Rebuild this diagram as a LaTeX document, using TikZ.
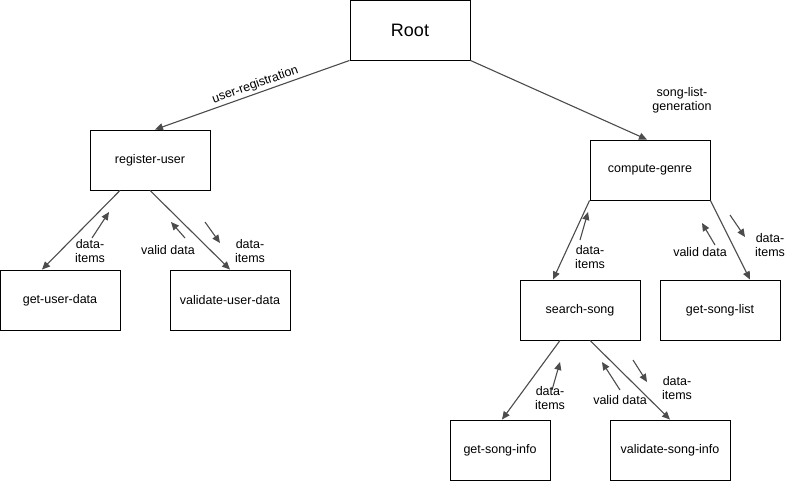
\documentclass[tikz,border=0pt]{standalone}
\usepackage{fontspec}
\setmainfont{Liberation Sans}
\usetikzlibrary{arrows.meta}
\begin{document}
\begin{tikzpicture}[x=1pt,y=-1pt,
  box/.style={draw=black,line width=0.9pt,minimum width=120pt,minimum height=60pt,inner sep=0pt,font=\fontsize{12.5}{14}\selectfont},
  smallbox/.style={box,minimum width=100pt},
  link/.style={draw=black!70,line width=1.1pt,-{Triangle[length=8pt,width=7pt]}},
  hint/.style={draw=black!70,line width=1.1pt,-{Triangle[length=8pt,width=7pt]}},
  lbl/.style={font=\fontsize{12.5}{14}\selectfont,align=center,inner sep=0pt}]
\useasboundingbox (0,0) rectangle (801,481);
\fill[white] (0,0) rectangle (801,481);
% boxes
\node[box,font=\fontsize{18}{20}\selectfont] (root) at (410,30) {Root};
\node[box] (reg) at (150,160) {register-user};
\node[box] (gud) at (60,300) {get-user-data};
\node[box] (vud) at (230,300) {validate-user-data};
\node[box] (cg) at (650,170) {compute-genre};
\node[box] (ss) at (580,310) {search-song};
\node[box] (gsl) at (720,310) {get-song-list};
\node[smallbox] (gsi) at (500,450) {get-song-info};
\node[box] (vsi) at (670,450) {validate-song-info};
% main connectors
\draw[link] (root.south west) -- ([xshift=5pt]reg.north) node[pos=0.47,sloped,above=2pt,lbl] {user-registration};
\draw[link] (root.south east) -- ([xshift=-3pt]cg.north);
\node[lbl] (slg) at (682,100) {song-list-\\generation};
\draw[link] ([xshift=-30pt]reg.south) -- ([xshift=-18pt]gud.north);
\draw[link] (reg.south) -- (vud.north);
\draw[link] (cg.south west) -- ([xshift=-27pt]ss.north);
\draw[link] (cg.south east) -- ([xshift=30pt]gsl.north);
\draw[link] ([xshift=-20pt]ss.south) -- ([xshift=2pt]gsi.north);
\draw[link] ([xshift=10pt]ss.south) -- (vsi.north);
% annotation arrows and labels
\draw[hint] (92,238) -- (109,212);
\node[lbl] (l1) at (90,251) {data-\\items};
\draw[hint] (185,238) -- (171,222);
\node[lbl] (l2) at (168,250) {valid data};
\draw[hint] (205,222) -- (220,243);
\node[lbl] (l3) at (250,251) {data-\\items};
\draw[hint] (580,240) -- (588,212);
\node[lbl] (l4) at (590,257) {data-\\items};
\draw[hint] (715,245) -- (702,223);
\node[lbl] (l5) at (700,252) {valid data};
\draw[hint] (730,215) -- (745,237);
\node[lbl] (l6) at (770,245) {data-\\items};
\draw[hint] (552,390) -- (560,362);
\node[lbl] (l7) at (550,398) {data-\\items};
\draw[hint] (620,390) -- (602,362);
\node[lbl] (l8) at (620,400) {valid data};
\draw[hint] (633,360) -- (647,382);
\node[lbl] (l9) at (677,388) {data-\\items};
\end{tikzpicture}
\end{document}
